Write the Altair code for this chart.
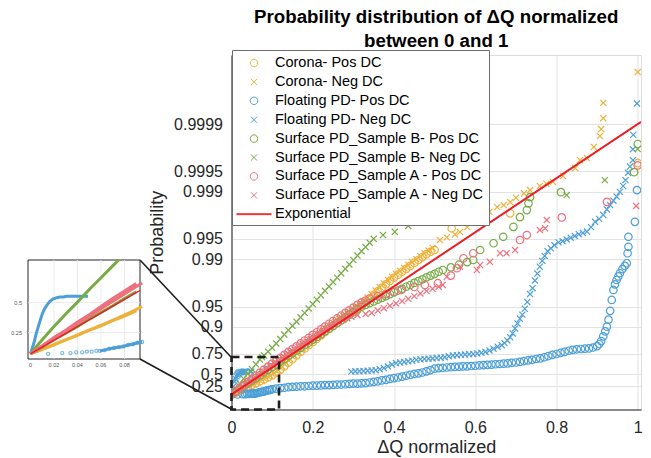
import math
import altair as alt
import pandas as pd

# ------------------------------------------------------------------ data
# x = Delta Q normalized, z = exponential quantile -ln(1-p) of the plotted probability
corona_pos_x = [0.00, 0.01, 0.02, 0.03, 0.04, 0.05, 0.06, 0.07, 0.08, 0.09, 0.10, 0.11, 0.12, 0.13, 0.14, 0.15,
                0.16, 0.17, 0.18, 0.19, 0.20, 0.21, 0.22, 0.23, 0.24, 0.25, 0.26, 0.27, 0.28, 0.29, 0.30, 0.31,
                0.32, 0.33, 0.34, 0.35, 0.36, 0.37, 0.38, 0.39, 0.40, 0.41, 0.42, 0.43, 0.44, 0.45, 0.46, 0.47,
                0.48, 0.49, 0.50, 0.542, 0.686, 1.0]
corona_pos_z = [0.00, 0.06, 0.12, 0.19, 0.25, 0.32, 0.38, 0.45, 0.51, 0.58, 0.65, 0.74, 0.84, 0.96, 1.08, 1.20,
                1.33, 1.45, 1.57, 1.68, 1.79, 1.90, 2.01, 2.12, 2.23, 2.34, 2.44, 2.54, 2.64, 2.74, 2.84, 2.94,
                3.04, 3.15, 3.27, 3.39, 3.51, 3.63, 3.75, 3.87, 3.98, 4.08, 4.18, 4.28, 4.38, 4.48, 4.58, 4.68,
                4.78, 4.86, 4.92, 5.66, 6.17, 7.88]

corona_neg_x = [0.005, 0.015, 0.025, 0.035, 0.045, 0.055, 0.065, 0.075, 0.085, 0.095, 0.105, 0.115, 0.125,
                0.135, 0.145, 0.155, 0.165, 0.175, 0.185, 0.195, 0.205, 0.215, 0.225, 0.235, 0.245, 0.255,
                0.265, 0.275, 0.285, 0.295, 0.305, 0.315, 0.325, 0.335, 0.345, 0.355, 0.365, 0.375, 0.385,
                0.395, 0.405, 0.415, 0.425, 0.435, 0.445, 0.455, 0.465, 0.475, 0.485, 0.495,
                0.513, 0.53, 0.55, 0.5625, 0.58, 0.60, 0.619, 0.635, 0.654, 0.67, 0.686, 0.70, 0.72, 0.735,
                0.759, 0.775, 0.791, 0.816, 0.846, 0.858, 0.875, 0.892, 0.907, 0.910, 0.915, 0.915, 1.0]
corona_neg_z = [0.03, 0.09, 0.16, 0.22, 0.29, 0.35, 0.42, 0.49, 0.56, 0.64, 0.73, 0.83, 0.95,
                1.08, 1.20, 1.33, 1.46, 1.58, 1.70, 1.82, 1.93, 2.04, 2.15, 2.26, 2.37, 2.47,
                2.57, 2.67, 2.77, 2.87, 2.97, 3.07, 3.18, 3.30, 3.42, 3.54, 3.66, 3.78, 3.90,
                4.01, 4.11, 4.21, 4.31, 4.41, 4.51, 4.61, 4.71, 4.81, 4.90, 4.99,
                5.26, 5.35, 5.45, 5.53, 5.70, 5.90, 6.11, 6.22, 6.38, 6.45, 6.55, 6.70, 6.85, 6.96,
                7.10, 7.18, 7.24, 7.44, 7.71, 7.98, 8.05, 8.43, 8.80, 9.04, 9.41, 9.93, 10.98]

floating_pos_x = [0.015, 0.027, 0.034, 0.039, 0.044, 0.048, 0.052, 0.056, 0.059, 0.063, 0.067, 0.071, 0.075,
                  0.079, 0.083, 0.087, 0.091, 0.095, 0.10, 0.11, 0.12, 0.13, 0.14, 0.15, 0.16, 0.17, 0.18,
                  0.19, 0.20, 0.21, 0.22, 0.23, 0.24, 0.25, 0.26, 0.27, 0.28, 0.29, 0.30, 0.31, 0.32, 0.33,
                  0.34, 0.35, 0.36, 0.37, 0.38, 0.39, 0.40, 0.41, 0.42, 0.43, 0.44, 0.45, 0.46, 0.47, 0.48,
                  0.49, 0.50, 0.51, 0.52, 0.53, 0.54, 0.55, 0.56, 0.57, 0.58, 0.59, 0.60, 0.61, 0.62, 0.63,
                  0.64, 0.65, 0.66, 0.67, 0.68, 0.69, 0.70, 0.71, 0.72, 0.73, 0.74, 0.75, 0.76, 0.77, 0.78,
                  0.79, 0.80, 0.81, 0.82, 0.83, 0.84, 0.85, 0.86, 0.87, 0.88, 0.89, 0.90, 0.905, 0.91, 0.915,
                  0.92, 0.924, 0.928, 0.932, 0.936, 0.94, 0.944, 0.948, 0.952, 0.956, 0.962, 0.968, 0.973,
                  0.975, 0.977, 0.977, 0.993, 0.998]
floating_pos_z = [0.00, 0.01, 0.01, 0.02, 0.02, 0.03, 0.03, 0.04, 0.04, 0.05, 0.07, 0.08, 0.09,
                  0.10, 0.12, 0.13, 0.15, 0.16, 0.18, 0.20, 0.22, 0.23, 0.25, 0.26, 0.27, 0.28, 0.28,
                  0.29, 0.30, 0.30, 0.31, 0.32, 0.32, 0.33, 0.34, 0.34, 0.35, 0.36, 0.37, 0.37, 0.38, 0.39,
                  0.41, 0.43, 0.45, 0.48, 0.50, 0.53, 0.56, 0.58, 0.61, 0.64, 0.67, 0.70, 0.72, 0.75, 0.79,
                  0.83, 0.88, 0.90, 0.91, 0.92, 0.93, 0.94, 0.95, 0.96, 0.96, 0.97, 0.98, 0.99, 1.00, 1.01,
                  1.02, 1.03, 1.04, 1.05, 1.06, 1.08, 1.09, 1.11, 1.14, 1.16, 1.18, 1.21, 1.23, 1.27, 1.31,
                  1.35, 1.38, 1.42, 1.45, 1.49, 1.52, 1.54, 1.55, 1.56, 1.57, 1.60, 1.65, 1.72, 1.82, 1.98,
                  2.15, 2.31, 2.55, 2.85, 3.22, 3.56, 3.75, 3.90, 4.02, 4.13, 4.27, 4.38, 4.47,
                  4.81, 5.03, 5.37, 5.88, 6.96]

floating_neg_x = [0.0, 0.003, 0.005, 0.008, 0.010, 0.0123, 0.0145, 0.0166, 0.019, 0.0223, 0.025, 0.028, 0.031,
                  0.0336, 0.0364, 0.0464, 0.049,
                  0.295, 0.305, 0.315, 0.325, 0.335, 0.345, 0.355, 0.365, 0.375, 0.385, 0.395, 0.405, 0.415,
                  0.425, 0.435, 0.445, 0.455, 0.465, 0.475, 0.485, 0.495, 0.505, 0.515, 0.525, 0.535, 0.545,
                  0.555, 0.565, 0.575, 0.585, 0.595, 0.605, 0.615, 0.625, 0.635, 0.645, 0.655, 0.665,
                  0.672, 0.679, 0.686, 0.692, 0.698, 0.704, 0.710, 0.716, 0.722, 0.728, 0.735, 0.741, 0.747,
                  0.753, 0.759, 0.765, 0.771, 0.778,
                  0.786, 0.795, 0.805, 0.815, 0.825, 0.835, 0.845, 0.855, 0.865, 0.875, 0.885, 0.895, 0.905,
                  0.915, 0.924, 0.932, 0.940, 0.948, 0.956, 0.964, 0.970, 0.976, 0.981, 0.988, 0.988, 0.989,
                  0.998]
floating_neg_z = [0.0, 0.15, 0.28, 0.44, 0.54, 0.62, 0.67, 0.71, 0.74, 0.76, 0.77, 0.77, 0.78,
                  0.78, 0.78, 0.78, 0.78,
                  0.78, 0.79, 0.79, 0.80, 0.81, 0.82, 0.83, 0.86, 0.90, 0.96, 1.02, 1.07, 1.09,
                  1.11, 1.13, 1.15, 1.18, 1.20, 1.21, 1.22, 1.23, 1.24, 1.25, 1.27, 1.30, 1.33,
                  1.34, 1.35, 1.36, 1.37, 1.38, 1.40, 1.42, 1.45, 1.50, 1.56, 1.63, 1.68,
                  1.75, 1.84, 1.95, 2.08, 2.25, 2.42, 2.58, 2.72, 2.92, 3.15, 3.42, 3.62, 3.88,
                  4.12, 4.35, 4.55, 4.72, 4.88,
                  4.98, 5.08, 5.18, 5.22, 5.28, 5.34, 5.40, 5.46, 5.50, 5.55, 5.70, 5.88, 5.98,
                  6.12, 6.30, 6.45, 6.60, 6.74, 6.90, 7.10, 7.30, 7.55, 7.76, 7.98, 8.35, 8.84,
                  9.91]

surface_b_pos_x = [0.00, 0.01, 0.02, 0.03, 0.04, 0.05, 0.06, 0.07, 0.08, 0.09, 0.10, 0.11, 0.12, 0.13, 0.14,
                   0.15, 0.16, 0.17, 0.18, 0.19, 0.20, 0.21, 0.22, 0.23, 0.24, 0.25, 0.26, 0.27, 0.28, 0.29,
                   0.30, 0.31, 0.32, 0.33, 0.34, 0.35, 0.36, 0.37, 0.38, 0.39, 0.40, 0.41, 0.42, 0.43, 0.44,
                   0.45, 0.46, 0.47, 0.48, 0.49, 0.50, 0.51, 0.52, 0.54, 0.56, 0.58, 0.595,
                   0.612, 0.645, 0.669, 0.694, 0.71, 0.727, 0.731, 0.735, 0.811, 0.991, 1.0]
surface_b_pos_z = [0.00, 0.09, 0.19, 0.28, 0.37, 0.47, 0.56, 0.65, 0.75, 0.84, 0.93, 1.02, 1.12, 1.21, 1.31,
                   1.40, 1.49, 1.59, 1.68, 1.77, 1.87, 1.96, 2.05, 2.15, 2.24, 2.33, 2.43, 2.52, 2.62, 2.71,
                   2.80, 2.90, 2.99, 3.05, 3.11, 3.17, 3.23, 3.29, 3.35, 3.42, 3.48, 3.54, 3.60, 3.67, 3.73,
                   3.80, 3.86, 3.92, 3.99, 4.05, 4.11, 4.18, 4.24, 4.33, 4.42, 4.51, 4.58,
                   4.92, 5.15, 5.37, 5.71, 6.04, 6.28, 6.51, 6.72, 6.89, 7.57, 8.53]

surface_b_neg_x = [0.00, 0.01, 0.02, 0.03, 0.04, 0.05, 0.06, 0.07, 0.075, 0.08, 0.09, 0.10, 0.11, 0.12, 0.13,
                   0.14, 0.15, 0.16, 0.17, 0.18, 0.19, 0.20, 0.21, 0.22, 0.23, 0.24, 0.25, 0.26, 0.27, 0.28,
                   0.29, 0.30, 0.31, 0.32, 0.33, 0.34, 0.35, 0.373, 0.402, 0.435, 0.825, 0.919, 1.0]
surface_b_neg_z = [0.00, 0.19, 0.37, 0.54, 0.70, 0.87, 1.03, 1.19, 1.27, 1.33, 1.46, 1.59, 1.74, 1.89, 2.04,
                   2.19, 2.34, 2.48, 2.63, 2.78, 2.93, 3.08, 3.23, 3.38, 3.53, 3.68, 3.83, 3.98, 4.13, 4.28,
                   4.43, 4.58, 4.73, 4.88, 5.02, 5.17, 5.30, 5.43, 5.54, 5.74, 6.79, 7.30, 8.36]

surface_a_pos_x = [0.00, 0.01, 0.02, 0.03, 0.04, 0.05, 0.06, 0.07, 0.08, 0.09, 0.10, 0.11, 0.12, 0.13, 0.14,
                   0.15, 0.16, 0.17, 0.18, 0.19, 0.20, 0.21, 0.22, 0.23, 0.24, 0.25, 0.26, 0.27, 0.28, 0.29,
                   0.30, 0.31, 0.32, 0.33, 0.34, 0.36, 0.38, 0.40, 0.418, 0.45, 0.476, 0.508, 0.54, 0.555,
                   0.571, 0.595, 0.71, 0.727, 0.813, 0.924, 1.0]
surface_a_pos_z = [0.00, 0.11, 0.22, 0.32, 0.43, 0.53, 0.64, 0.75, 0.85, 0.95, 1.05, 1.15, 1.25, 1.35, 1.45,
                   1.55, 1.64, 1.74, 1.84, 1.93, 2.03, 2.12, 2.22, 2.31, 2.41, 2.50, 2.59, 2.69, 2.78, 2.87,
                   2.96, 3.05, 3.13, 3.20, 3.27, 3.35, 3.42, 3.50, 3.56, 3.66, 3.73, 3.79, 4.05, 4.30,
                   4.64, 4.81, 5.26, 5.43, 6.03, 6.56, 7.80]

surface_a_neg_x = [0.005, 0.015, 0.025, 0.035, 0.045, 0.055, 0.065, 0.075, 0.085, 0.095, 0.105, 0.115, 0.125,
                   0.135, 0.145, 0.155, 0.165, 0.175, 0.185, 0.195, 0.205, 0.215, 0.225, 0.235, 0.245, 0.255,
                   0.265, 0.275, 0.285, 0.295, 0.31, 0.33, 0.345, 0.36, 0.375, 0.39, 0.405, 0.42, 0.435, 0.45,
                   0.465, 0.48, 0.495, 0.51, 0.52,
                   0.53, 0.5625, 0.604, 0.612, 0.636, 0.661, 0.677, 0.698, 0.759, 0.772, 0.776, 0.996]
surface_a_neg_z = [0.05, 0.15, 0.25, 0.36, 0.46, 0.56, 0.66, 0.76, 0.86, 0.96, 1.06, 1.15, 1.25,
                   1.34, 1.44, 1.53, 1.62, 1.71, 1.80, 1.89, 1.98, 2.07, 2.16, 2.24, 2.32, 2.40,
                   2.47, 2.54, 2.60, 2.65, 2.70, 2.74, 2.78, 2.86, 2.94, 3.02, 3.10, 3.18, 3.26, 3.35,
                   3.44, 3.52, 3.60, 3.67, 3.73,
                   4.01, 4.35, 4.24, 4.41, 4.52, 4.81, 4.81, 4.92, 5.60, 5.66, 5.94, 6.42]

series_names = ["Corona- Pos DC", "Corona- Neg DC", "Floating PD- Pos DC", "Floating PD- Neg DC",
                "Surface PD_Sample B- Pos DC", "Surface PD_Sample B- Neg DC",
                "Surface PD_Sample A - Pos DC", "Surface PD_Sample A - Neg DC"]
fit_name = "Exponential"
legend_names = series_names + [fit_name]
series_colors = ["#EDB23C", "#EDB23C", "#4C9FD7", "#4C9FD7", "#77AC45", "#77AC45",
                 "#EF6F7D", "#EF6F7D", "#ED1C24"]

exp_mu = 0.1086  # mean of the fitted exponential (line reaches 0.9999 at x = 1)

prob_ticks = [0.25, 0.5, 0.75, 0.9, 0.95, 0.99, 0.995, 0.999, 0.9995, 0.9999]
prob_labels = ["0.25", "0.5", "0.75", "0.9", "0.95", "0.99", "0.995", "0.999", "0.9995", "0.9999"]
x_ticks = [0, 0.2, 0.4, 0.6, 0.8, 1.0]

inset_x_domain = [-0.0021, 0.0932]
inset_z_domain = [-0.07, 1.27]
inset_x_ticks = [0, 0.02, 0.04, 0.06, 0.08]
inset_x_labels = ["0", "0.02", "0.04", "0.06", "0.08"]
inset_p_ticks = [0.25, 0.5]
inset_p_labels = ["0.25", "0.5"]
zoom_box = {"x0": 0.0, "x1": 0.117, "z0": -0.51, "z1": 1.277}

# ------------------------------------------------------------------ tables
all_series = [
    (series_names[0], corona_pos_x, corona_pos_z),
    (series_names[1], corona_neg_x, corona_neg_z),
    (series_names[2], floating_pos_x, floating_pos_z),
    (series_names[3], floating_neg_x, floating_neg_z),
    (series_names[4], surface_b_pos_x, surface_b_pos_z),
    (series_names[5], surface_b_neg_x, surface_b_neg_z),
    (series_names[6], surface_a_pos_x, surface_a_pos_z),
    (series_names[7], surface_a_neg_x, surface_a_neg_z),
]
rows = []
for name, xs_, zs_ in all_series:
    assert len(xs_) == len(zs_), (name, len(xs_), len(zs_))
    rows += [{"series": name, "x": a, "z": b} for a, b in zip(xs_, zs_)]
df = pd.DataFrame(rows)

tick_z = [-math.log(1 - p) for p in prob_ticks]
label_expr = "".join(f"abs(datum.value-{z:.5f})<0.001?'{l}':" for z, l in zip(tick_z, prob_labels)) + "''"

FONT = "Liberation Sans"
DARK = "#262626"
SYM = 289  # nominal symbol size; custom paths below are scaled by sqrt(SYM)/2 = 8.5 px
circle_path = "M-0.44,0A0.44,0.44,0,1,1,0.44,0A0.44,0.44,0,1,1,-0.44,0Z"
cross_path = "M-0.36,-0.36L0.36,0.36M-0.36,0.36L0.36,-0.36"
line_path = "M-2.06,-0.053L2.06,-0.053M-2.06,0.053L2.06,0.053"
shape_range = [circle_path, cross_path] * 4 + [line_path]

legend = alt.Legend(
    title=None, orient="none", legendX=0.5, legendY=-5, direction="vertical",
    fillColor="white", strokeColor="#6e6e6e", padding=4,
    symbolSize=SYM, symbolStrokeWidth=1, symbolOffset=9, labelFontSize=14.5, labelFont=FONT,
    labelColor="#000000", labelOffset=12, rowPadding=2.9, labelLimit=400,
    labelExpr="datum.label == 'Exponential' ? '\u00a0\u00a0Exponential' : datum.label",
)
color_scale = alt.Scale(domain=legend_names, range=series_colors)
shape_scale = alt.Scale(domain=legend_names, range=shape_range)

xs = alt.Scale(domain=[0, 1.008], nice=False, zero=False)
ys = alt.Scale(domain=[-0.51, 11.56], nice=False, zero=False)

x_axis = alt.Axis(values=x_ticks, format="~g", title="ΔQ normalized", labelFontSize=16, titleFontSize=18,
                  labelPadding=10, titlePadding=3, grid=True, gridColor="#e3e3e3", ticks=False,
                  labelFlush=False, labelOverlap=False, labelColor=DARK, titleColor=DARK,
                  labelFont=FONT, titleFont=FONT, titleFontWeight="normal", domainColor=DARK)
y_axis = alt.Axis(values=tick_z, labelExpr=label_expr, title="Probability", labelFontSize=16,
                  titleFontSize=18, labelPadding=9, titlePadding=7, grid=True, gridColor="#e3e3e3",
                  ticks=False, labelFlush=False, labelOverlap=False, labelColor=DARK, titleColor=DARK,
                  labelFont=FONT, titleFont=FONT, titleFontWeight="normal", domainColor=DARK)

points = alt.Chart(df).mark_point(filled=False, size=SYM, strokeWidth=1.2, opacity=1, clip=True).encode(
    x=alt.X("x:Q", scale=xs, axis=x_axis),
    y=alt.Y("z:Q", scale=ys, axis=y_axis),
    color=alt.Color("series:N", scale=color_scale, legend=legend),
    shape=alt.Shape("series:N", scale=shape_scale, legend=legend),
)

fit_line = alt.Chart(alt.sequence(0, 1.0085, 0.0015, as_="x")).transform_calculate(
    z=f"datum.x / {exp_mu}", series=f"'{fit_name}'"
).mark_line(strokeWidth=2, clip=True).encode(
    x=alt.X("x:Q", scale=xs, axis=x_axis), y=alt.Y("z:Q", scale=ys, axis=y_axis),
    color=alt.Color("series:N", scale=color_scale, legend=None),
)

box = alt.Chart(pd.DataFrame([zoom_box])).mark_rect(
    fill="transparent", stroke="#1e1e1e", strokeWidth=2.6, strokeDash=[8, 5]
).encode(x=alt.X("x0:Q", scale=xs, axis=x_axis), x2="x1:Q",
         y=alt.Y("z0:Q", scale=ys, axis=y_axis), y2="z1:Q")

one = alt.Data(values=[{"k": 1}])
conn1 = alt.Chart(one).mark_rule(stroke="#1e1e1e", strokeWidth=1.6).encode(
    x=alt.value(-91.5), y=alt.value(205), x2=alt.value(-0.5), y2=alt.value(302))
conn2 = alt.Chart(one).mark_rule(stroke="#1e1e1e", strokeWidth=1.6).encode(
    x=alt.value(-91.5), y=alt.value(304), x2=alt.value(0.5), y2=alt.value(354.5))

main_layer = alt.layer(points, fit_line, box, conn1, conn2)

# ------------------------------------------------------------------ inset
ixs = alt.Scale(domain=inset_x_domain, range=[-203.5, -91.5], nice=False, zero=False)
iys = alt.Scale(domain=inset_z_domain, range=[304, 205], nice=False, zero=False)
inset_frame = pd.DataFrame([{"x0": inset_x_domain[0], "x1": inset_x_domain[1],
                             "z0": inset_z_domain[0], "z1": inset_z_domain[1]}])
inset_filter = (f"datum.x >= {inset_x_domain[0]} && datum.x <= 0.0955 && "
                f"datum.z >= {inset_z_domain[0]} && datum.z <= 1.28")

inset_bg = alt.Chart(inset_frame).mark_rect(fill="white", stroke=DARK, strokeWidth=1).encode(
    x=alt.X("x0:Q", scale=ixs, axis=None), x2="x1:Q",
    y=alt.Y("z0:Q", scale=iys, axis=None), y2="z1:Q")

ivgrid = alt.Chart(pd.DataFrame({"t": inset_x_ticks[1:], "z0": inset_z_domain[0], "z1": inset_z_domain[1]})
                   ).mark_rule(stroke="#e6e6e6", strokeWidth=0.8).encode(
    x=alt.X("t:Q", scale=ixs, axis=None), y=alt.Y("z0:Q", scale=iys, axis=None), y2="z1:Q")
ihgrid = alt.Chart(pd.DataFrame({"t": [-math.log(1 - p) for p in inset_p_ticks],
                                 "x0": inset_x_domain[0], "x1": inset_x_domain[1]})
                   ).mark_rule(stroke="#e6e6e6", strokeWidth=0.8).encode(
    y=alt.Y("t:Q", scale=iys, axis=None), x=alt.X("x0:Q", scale=ixs, axis=None), x2="x1:Q")

inset_lines = alt.Chart(df).transform_filter(inset_filter).transform_filter(
    f"datum.series != '{series_names[2]}' || datum.x > 0.058"
).mark_line(strokeWidth=3).encode(
    x=alt.X("x:Q", scale=ixs, axis=None), y=alt.Y("z:Q", scale=iys, axis=None),
    color=alt.Color("series:N", scale=color_scale, legend=None), order="x:Q")

inset_dots = alt.Chart(df).transform_filter(inset_filter).transform_filter(
    f"datum.series == '{series_names[2]}'"
).mark_point(filled=False, shape="circle", size=10, strokeWidth=1.2).encode(
    x=alt.X("x:Q", scale=ixs, axis=None), y=alt.Y("z:Q", scale=iys, axis=None),
    color=alt.Color("series:N", scale=color_scale, legend=None))

inset_fit = alt.Chart(alt.sequence(0, 0.0935, 0.001, as_="x")).transform_calculate(
    z=f"datum.x / {exp_mu}", series=f"'{fit_name}'"
).mark_line(strokeWidth=1.4).encode(
    x=alt.X("x:Q", scale=ixs, axis=None), y=alt.Y("z:Q", scale=iys, axis=None),
    color=alt.Color("series:N", scale=color_scale, legend=None))

ixlab = alt.Chart(pd.DataFrame({"t": inset_x_ticks, "lab": inset_x_labels, "z": inset_z_domain[0]})
                  ).mark_text(fontSize=5.5, font=FONT, color="#555555", baseline="top", dy=4).encode(
    x=alt.X("t:Q", scale=ixs, axis=None), y=alt.Y("z:Q", scale=iys, axis=None), text="lab:N")
iylab = alt.Chart(pd.DataFrame({"t": [-math.log(1 - p) for p in inset_p_ticks], "lab": inset_p_labels,
                                "x": inset_x_domain[0]})
                  ).mark_text(fontSize=5.5, font=FONT, color="#555555", align="right", dx=-6).encode(
    x=alt.X("x:Q", scale=ixs, axis=None), y=alt.Y("t:Q", scale=iys, axis=None), text="lab:N")

inset_layer = alt.layer(inset_bg, ivgrid, ihgrid, inset_lines, inset_dots, inset_fit, ixlab, iylab)

chart = alt.layer(main_layer, inset_layer).resolve_scale(
    x="independent", y="independent"
).properties(
    width=409.5, height=354.5,
    autosize=alt.AutoSizeParams(type="none"),
    padding={"left": 231.5, "top": 55, "right": 10, "bottom": 48.5},
    title=alt.TitleParams(text=["Probability distribution of ΔQ normalized", "between 0 and 1"],
                          fontSize=18.7, font=FONT, fontWeight="bold", color="#000000",
                          anchor="middle", frame="group", offset=5, dy=6, lineHeight=24),
).configure_view(stroke=DARK, strokeWidth=1).configure_axis(labelOverlap=False).configure(background="white")

chart.save("out.html", embed_options={"renderer": "svg", "actions": False})
